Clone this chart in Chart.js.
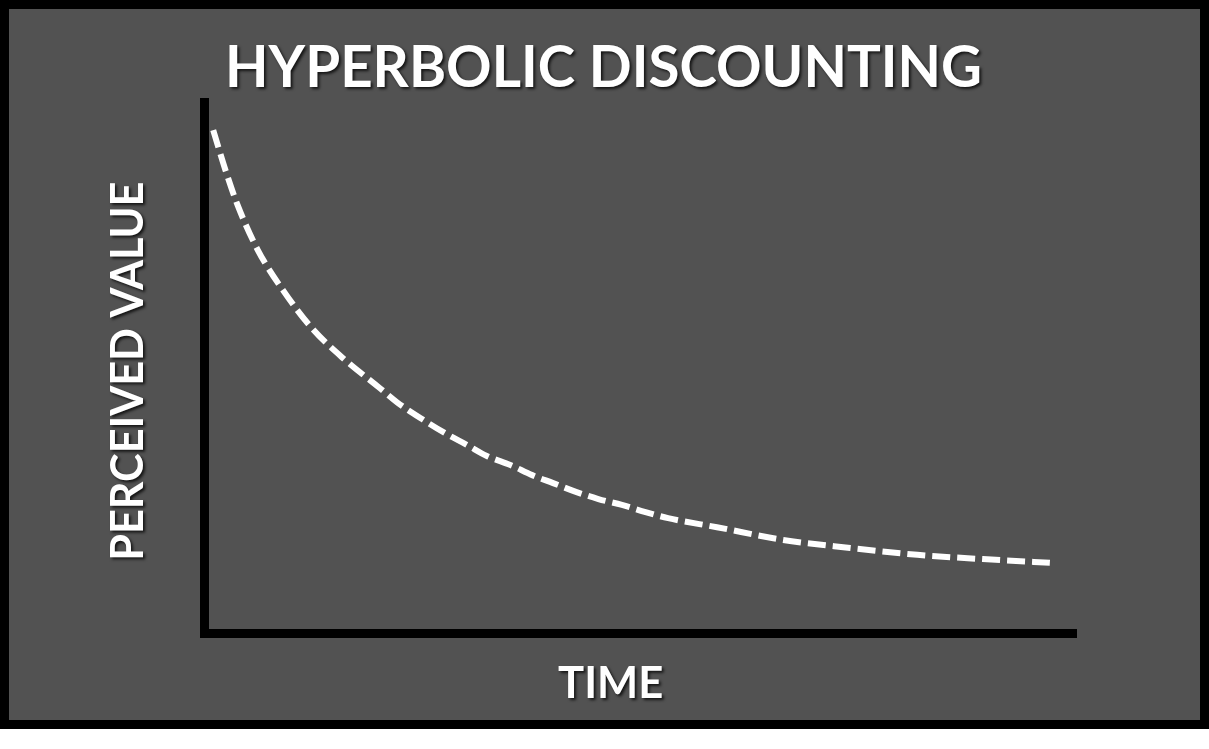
<!DOCTYPE html>
<html>
<head>
<meta charset="utf-8">
<script src="https://cdn.jsdelivr.net/npm/chart.js@4"></script>
<style>
  body { margin: 0; background: #fff; }
  #frame {
    position: absolute; left: 0; top: 0;
    width: 1191px; height: 711px;
    border: 9px solid #000;
    background: #525252;
  }
  #chart_hd { display: block; }
</style>
</head>
<body>
<div id="frame"><canvas id="chart_hd" width="1191" height="711"></canvas></div>
<script>
const titleText = "HYPERBOLIC DISCOUNTING";
const xTitle = "TIME";
const yTitle = "PERCEIVED VALUE";

// time 0..100, perceived value 0..100
const timeVals = [1, 2.4, 3.8, 6.1, 9.0, 12.3, 15.9, 20.1, 22.1, 25.1, 27.6, 30.1, 32.4, 35.1, 37.6, 40.0, 42.7, 45.2, 47.9, 50.5, 53.2, 58.8, 66.4, 74.1, 81.8, 89.3, 97];
const perceivedVals = [94.7, 87.2, 80.6, 72.2, 64.6, 57.5, 51.8, 46.2, 43.5, 40.2, 37.7, 35.5, 33.4, 31.7, 29.8, 28.3, 26.6, 25.3, 24.2, 22.9, 21.7, 20.0, 17.6, 16.1, 14.8, 14.0, 13.3];

const points = timeVals.map((t, i) => ({ x: t, y: perceivedVals[i] }));

// white bold text with a soft drop shadow, squeezed to the width it has in the picture
function drawLabel(ctx, text, left, baseline, width, size, rotate) {
    ctx.save();
    ctx.font = "bold " + size + "px Lato";
    ctx.fillStyle = "#fff";
    ctx.textAlign = "left";
    ctx.textBaseline = "alphabetic";
    ctx.shadowColor = "rgba(0,0,0,0.75)";
    ctx.shadowOffsetX = 2;
    ctx.shadowOffsetY = 2;
    ctx.shadowBlur = 3;
    const m = ctx.measureText(text);
    const ink = m.actualBoundingBoxLeft + m.actualBoundingBoxRight;
    ctx.translate(left, baseline);
    if (rotate) ctx.rotate(-Math.PI / 2);
    ctx.scale(width / ink, 1);
    ctx.fillText(text, m.actualBoundingBoxLeft, 0);
    ctx.restore();
}

const labelPlugin = {
    id: "labels",
    afterDraw(chart) {
        const ctx = chart.ctx;
        drawLabel(ctx, titleText, 220, 78, 751, 58, false);
        drawLabel(ctx, xTitle, 549, 689, 104, 44, false);
        // rotated: starts at the bottom, baseline on the right
        drawLabel(ctx, yTitle, 134, 549, 375, 46, true);
    }
};

const config = {
    type: "line",
    data: {
        datasets: [
            {
                data: points,
                borderColor: "#fff",
                borderWidth: 6,
                borderDash: [18, 7],
                borderCapStyle: "butt",
                pointRadius: 0,
                cubicInterpolationMode: "monotone",
                fill: false,
                clip: false,
            },
        ],
    },
    options: {
        responsive: false,
        animation: false,
        events: [],
        layout: {
            padding: { left: 195.5, top: 93, right: 124, bottom: 86.5 },
        },
        plugins: {
            legend: { display: false },
            tooltip: { enabled: false },
            title: { display: false },
        },
        scales: {
            x: {
                type: "linear",
                min: 0,
                max: 100,
                grid: { display: false },
                ticks: { display: false },
                border: { display: true, color: "#000", width: 9 },
                afterFit(scale) { scale.height = 0; },
            },
            y: {
                type: "linear",
                min: 0,
                max: 100,
                grid: { display: false },
                ticks: { display: false },
                border: { display: true, color: "#000", width: 9 },
                afterFit(scale) { scale.width = 0; },
            },
        },
    },
    plugins: [labelPlugin],
};

const ctxHd = document.getElementById("chart_hd");
const hdChart = new Chart(ctxHd, config);
</script>
</body>
</html>
